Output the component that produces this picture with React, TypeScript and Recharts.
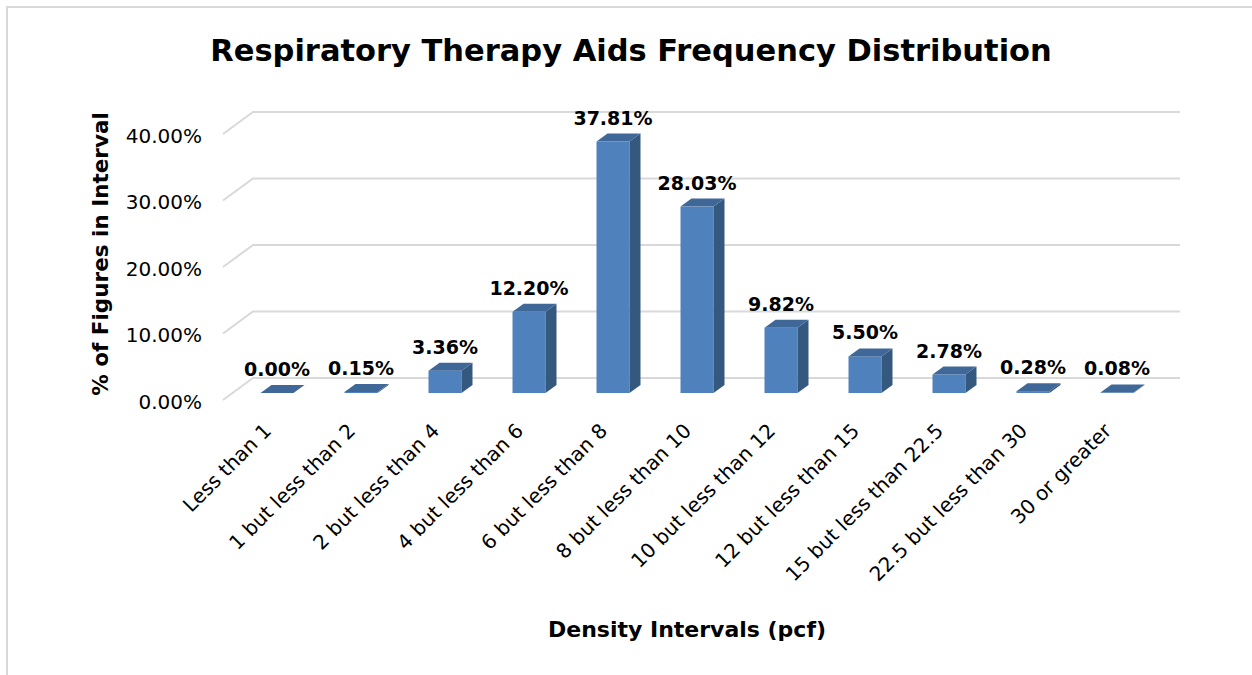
import React from "react";
import { BarChart, Bar, XAxis, YAxis, CartesianGrid, LabelList } from "recharts";

// Density intervals (pcf) and share of figures in each one
const categories = [
  "Less than 1",
  "1 but less than 2",
  "2 but less than 4",
  "4 but less than 6",
  "6 but less than 8",
  "8 but less than 10",
  "10 but less than 12",
  "12 but less than 15",
  "15 but less than 22.5",
  "22.5 but less than 30",
  "30 or greater",
];
const percentages = [0.0, 0.15, 3.36, 12.2, 37.81, 28.03, 9.82, 5.5, 2.78, 0.28, 0.08];
const yTicks = [0, 10, 20, 30, 40];

const FONT = "'DejaVu Sans', sans-serif";
const FRONT = "#4F81BD";
const TOP = "#3F6899";
const SIDE = "#35587F";
const DX = 11; // 3d depth of the bars
const DY = -8;

const data = categories.map((name, i) => ({ name, value: percentages[i] }));

// bar drawn as a little box: front, top and right side
function Bar3D(props: any) {
  const { x, y, width, height } = props;
  const h = Math.max(height, 0);
  const top = `${x},${y} ${x + DX},${y + DY} ${x + width + DX},${y + DY} ${x + width},${y}`;
  const side = `${x + width},${y} ${x + width + DX},${y + DY} ${x + width + DX},${y + h + DY} ${x + width},${y + h}`;
  return (
    <g>
      {h > 0 && <rect x={x} y={y} width={width} height={h} fill={FRONT} />}
      {h > 0 && <polygon points={side} fill={SIDE} />}
      <polygon points={top} fill={TOP} />
    </g>
  );
}

// gridlines sit on the back wall, with a slanted piece on the side wall
function GridLine(props: any) {
  const { x1, x2, y1 } = props;
  const pts = `${x1 - 11.5},${y1 + 7} ${x1 + 18.5},${y1 - 15} ${x2 + 21.5},${y1 - 15}`;
  return <polyline key={props.key ?? `g-${y1}`} points={pts} fill="none" stroke="#D9D9D9" strokeWidth={2} />;
}

function XTick(props: any) {
  const { x, payload } = props;
  const tx = x - 4;
  const ty = 432;
  return (
    <text x={tx} y={ty} textAnchor="end" fontFamily={FONT} fontSize={20} fill="#000" transform={`rotate(-45, ${tx}, ${ty})`}>
      {payload.value}
    </text>
  );
}

function YTick(props: any) {
  const { y, payload } = props;
  return (
    <text x={202} y={y + 15.5} textAnchor="end" fontFamily={FONT} fontSize={20} fill="#000">
      {payload.value.toFixed(2)}%
    </text>
  );
}

function ValueLabel(props: any) {
  const { x, y, width, value } = props;
  return (
    <text x={x + width / 2} y={y - 17} textAnchor="middle" fontFamily={FONT} fontSize={19} fontWeight="bold" fill="#000">
      {Number(value).toFixed(2)}%
    </text>
  );
}

export default function App() {
  return (
    <div style={{ position: "absolute", left: 0, top: 0, width: 1252, height: 675, background: "#fff", overflow: "hidden" }}>
      <div
        style={{
          position: "absolute",
          left: 6,
          top: 6,
          width: 1300,
          height: 700,
          borderLeft: "2px solid #D9D9D9",
          borderTop: "2px solid #D9D9D9",
        }}
      />
      <div style={{ position: "absolute", left: 0, top: 0 }}>
        <BarChart width={1252} height={675} data={data} margin={{ top: 127, right: 93.5, bottom: 132, left: 134.5 }}>
          <CartesianGrid vertical={false} horizontal={GridLine} />
          <XAxis dataKey="name" height={150} axisLine={false} tickLine={false} interval={0} tick={XTick} />
          <YAxis width={100} domain={[0, 40]} ticks={yTicks} axisLine={false} tickLine={false} tick={YTick} />
          <Bar dataKey="value" barSize={33} shape={Bar3D} isAnimationActive={false}>
            <LabelList dataKey="value" content={ValueLabel} />
          </Bar>
        </BarChart>
      </div>
      <svg width={1252} height={675} style={{ position: "absolute", left: 0, top: 0, pointerEvents: "none" }}>
        <text x={631} y={61} textAnchor="middle" fontFamily={FONT} fontSize={30.5} fontWeight="bold" fill="#000">
          Respiratory Therapy Aids Frequency Distribution
        </text>
        <text x={687} y={637} textAnchor="middle" fontFamily={FONT} fontSize={22} fontWeight="bold" fill="#000">
          Density Intervals (pcf)
        </text>
        <text
          x={108}
          y={254}
          textAnchor="middle"
          fontFamily={FONT}
          fontSize={21.5}
          fontWeight="bold"
          fill="#000"
          transform="rotate(-90, 108, 254)"
        >
          % of Figures in Interval
        </text>
      </svg>
    </div>
  );
}
